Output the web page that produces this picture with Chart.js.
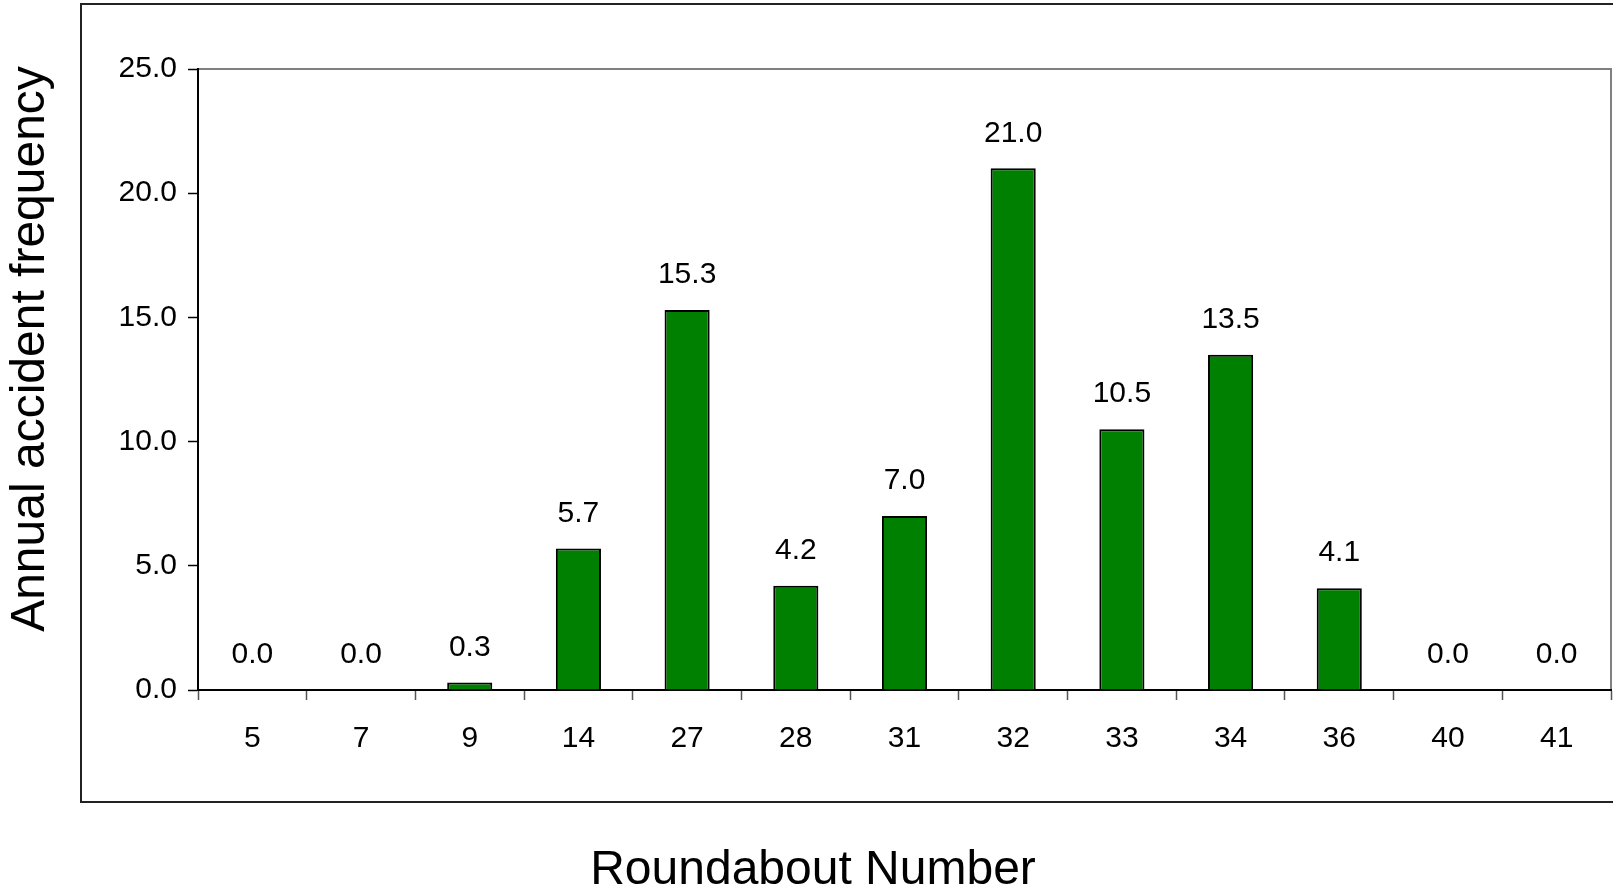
<!DOCTYPE html>
<html>
<head>
<meta charset="utf-8">
<script src="https://cdn.jsdelivr.net/npm/chart.js@4.4.1/dist/chart.umd.min.js"></script>
<style>
  html, body { margin: 0; padding: 0; background: #fff; }
  #wrap { width: 1613px; height: 890px; position: relative; }
</style>
</head>
<body>
<div id="wrap"><canvas id="c"></canvas></div>
<script>
const categories = ['5', '7', '9', '14', '27', '28', '31', '32', '33', '34', '36', '40', '41'];
const frequencies = [0.0, 0.0, 0.3, 5.7, 15.3, 4.2, 7.0, 21.0, 10.5, 13.5, 4.1, 0.0, 0.0];
const yTickMin = 0;
const yTickMax = 25;
const yTickStep = 5;
const xTitle = 'Roundabout Number';
const yTitle = 'Annual accident frequency';

const FONT = '"Liberation Sans", Arial, sans-serif';

const framePlugin = {
  id: 'frame',
  beforeDraw(chart) {
    const ctx = chart.ctx;
    const a = chart.chartArea;
    ctx.save();
    ctx.strokeStyle = '#222';
    ctx.lineWidth = 2;
    ctx.strokeRect(81, 4, 1620, 798);
    ctx.strokeStyle = '#808080';
    ctx.lineWidth = 2;
    ctx.beginPath();
    ctx.moveTo(a.left, a.top);
    ctx.lineTo(a.right, a.top);
    ctx.lineTo(a.right, a.bottom);
    ctx.stroke();
    ctx.restore();
  },
  afterDraw(chart) {
    const ctx = chart.ctx;
    ctx.save();
    ctx.fillStyle = '#000';
    ctx.font = '48px ' + FONT;
    ctx.textAlign = 'center';
    ctx.textBaseline = 'alphabetic';
    ctx.fillText(xTitle, 813, 884);
    ctx.translate(44, 349);
    ctx.rotate(-Math.PI / 2);
    ctx.fillText(yTitle, 0, 0);
    ctx.restore();
  }
};

const valueLabelPlugin = {
  id: 'valueLabels',
  afterDatasetsDraw(chart) {
    const ctx = chart.ctx;
    const meta = chart.getDatasetMeta(0);
    const ds = chart.data.datasets[0];
    ctx.save();
    ctx.fillStyle = '#000';
    ctx.font = '30px ' + FONT;
    ctx.textAlign = 'center';
    ctx.textBaseline = 'middle';
    meta.data.forEach((bar, i) => {
      ctx.fillText(ds.data[i].toFixed(1), bar.x, bar.y - 35);
    });
    ctx.restore();
  }
};

new Chart(document.getElementById('c'), {
  type: 'bar',
  data: {
    labels: categories,
    datasets: [{
      data: frequencies,
      backgroundColor: '#008000',
      borderColor: '#000',
      borderWidth: 2,
      borderSkipped: 'start',
      categoryPercentage: 1.0,
      barPercentage: 0.415
    }]
  },
  options: {
    responsive: true,
    maintainAspectRatio: false,
    animation: false,
    events: [],
    layout: { padding: { left: 0, top: 69, right: 2, bottom: 0 } },
    plugins: {
      legend: { display: false },
      tooltip: { enabled: false },
      title: { display: false }
    },
    scales: {
      x: {
        offset: true,
        afterFit(scale) { scale.height = 200; },
        grid: {
          display: true,
          drawOnChartArea: false,
          drawTicks: true,
          tickLength: 10,
          tickColor: '#555',
          tickWidth: 1.5,
          offset: true
        },
        border: { display: true, color: '#000', width: 2 },
        ticks: {
          color: '#000',
          font: { family: FONT, size: 30 },
          padding: 21,
          maxRotation: 0,
          autoSkip: false
        }
      },
      y: {
        min: yTickMin,
        max: yTickMax,
        afterFit(scale) { scale.width = 198; },
        grid: {
          display: true,
          drawOnChartArea: false,
          drawTicks: true,
          tickLength: 10,
          tickColor: '#000',
          tickWidth: 1.5
        },
        border: { display: true, color: '#000', width: 2 },
        ticks: {
          stepSize: yTickStep,
          color: '#000',
          font: { family: FONT, size: 30 },
          padding: 11,
          callback: v => Number(v).toFixed(1)
        }
      }
    }
  },
  plugins: [framePlugin, valueLabelPlugin]
});
</script>
</body>
</html>
